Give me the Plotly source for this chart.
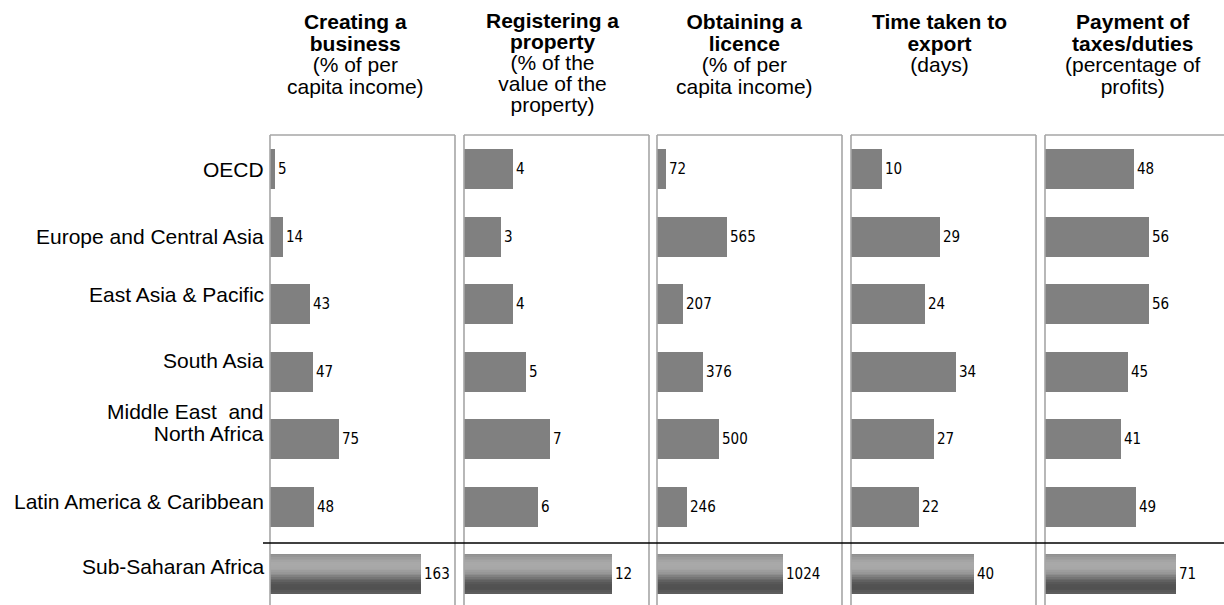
import plotly.graph_objects as go

W, H = 1224, 605

# ---------------- data ----------------
regions = ["OECD", "Europe and Central Asia", "East Asia & Pacific", "South Asia",
           "Middle East and North Africa", "Latin America & Caribbean", "Sub-Saharan Africa"]
region_labels = ["OECD", "Europe and Central Asia", "East Asia & Pacific", "South Asia",
                 "Middle East  and<br>North Africa", "Latin America & Caribbean", "Sub-Saharan Africa"]

creating_business = [5, 14, 43, 47, 75, 48, 163]
registering_property = [4, 3, 4, 5, 7, 6, 12]
obtaining_licence = [72, 565, 207, 376, 500, 246, 1024]
time_to_export = [10, 29, 24, 34, 27, 22, 40]
payment_taxes = [48, 56, 56, 45, 41, 49, 71]

panel_titles_bold = [
    ["Creating a", "business"],
    ["Registering a", "property"],
    ["Obtaining a", "licence"],
    ["Time taken to", "export"],
    ["Payment of", "taxes/duties"],
]
panel_titles_sub = [
    ["(% of per", "capita income)"],
    ["(% of the", "value of the", "property)"],
    ["(% of per", "capita income)"],
    ["(days)"],
    ["(percentage of", "profits)"],
]
panel_values = [creating_business, registering_property, obtaining_licence,
                time_to_export, payment_taxes]
panel_max = [200, 15, 1500, 60, 100]

# ---------------- style / layout ----------------
panel_left_px = [270, 464, 657, 851, 1045]
panel_w_px = 185
top_px = 135
row0_px, row_step = 169, 67.5
bar_px = 40
label_right_px = 266
label_shift = [0, 0, 10, 11, 17, 5, 8]   # upward pixel shift of row labels
title_shift_px = [-7, -4, -5, -4, -5]
title_line_step = [21.5, 21, 21.5, 21.5, 21.5]
title_top_px = [8, 7, 8, 8, 8]
text_size = 21
label_line_step = 22

bar_color = "#808080"
grad_keys = [(0.0, 140), (0.12, 158), (0.25, 170), (0.38, 166), (0.5, 148),
             (0.62, 112), (0.75, 84), (0.88, 80), (1.0, 96)]
n_stripes = 24
box_color = "#a6a6a6"
label_font = "Liberation Sans, Arial, Helvetica, sans-serif"
value_font = "DejaVu Sans Condensed, DejaVu Sans, Tahoma, sans-serif"


def grey_at(t):
    for (t0, g0), (t1, g1) in zip(grad_keys[:-1], grad_keys[1:]):
        if t0 <= t <= t1:
            g = g0 + (g1 - g0) * (t - t0) / (t1 - t0)
            g = int(round(g))
            return "rgb(%d,%d,%d)" % (g, g, g)
    g = grad_keys[-1][1]
    return "rgb(%d,%d,%d)" % (g, g, g)


def sized(t, size):
    return '<span style="font-size:%dpx">%s</span>' % (size, t)


fig = go.Figure()

plot_h = H - top_px
r_top = -(row0_px - top_px) / row_step
r_bot = r_top + plot_h / row_step
bw = bar_px / row_step
n = len(regions)

for p in range(5):
    ax = "" if p == 0 else str(p + 1)
    xa, ya = "x" + ax, "y" + ax
    vals = panel_values[p]
    colors = [bar_color] * (n - 1) + ["rgba(0,0,0,0)"]
    sw = bw / n_stripes
    for k in range(n_stripes):
        fig.add_trace(go.Bar(
            x=[vals[-1]], y=[regions[-1]], orientation="h",
            width=sw * 1.05, offset=-bw / 2 + k * sw,
            marker=dict(color=grey_at((k + 0.5) / n_stripes), line=dict(width=0)),
            xaxis=xa, yaxis=ya, showlegend=False, hoverinfo="skip"))
    fig.add_trace(go.Bar(
        x=vals, y=regions, orientation="h", width=bw,
        marker=dict(color=colors, line=dict(width=0)),
        text=[str(v) for v in vals], textposition="outside",
        constraintext="none", cliponaxis=False,
        textfont=dict(family=value_font, size=15, color="#000000"),
        xaxis=xa, yaxis=ya, showlegend=False, hoverinfo="skip"))

    x0 = panel_left_px[p] / W
    x1 = min(1.0, (panel_left_px[p] + panel_w_px) / W)
    span_px = (x1 - x0) * W
    xrange_max = panel_max[p] * span_px / panel_w_px
    fig.update_layout(**{
        ("xaxis" + ax): dict(domain=[x0, x1], range=[0, xrange_max], visible=False,
                             fixedrange=True),
        ("yaxis" + ax): dict(domain=[0, 1 - top_px / H], range=[r_bot, r_top],
                             type="category", categoryorder="array", categoryarray=regions,
                             visible=False, fixedrange=True, anchor=xa),
    })
    L = panel_left_px[p] / W
    R = (panel_left_px[p] + panel_w_px) / W
    T = 1 - top_px / H
    for (ax0, ay0, ax1, ay1) in [(L, -0.05, L, T), (R, -0.05, R, T), (L, T, R, T)]:
        fig.add_shape(type="line", xref="paper", yref="paper", x0=ax0, y0=ay0, x1=ax1, y1=ay1,
                      line=dict(color=box_color, width=1.6))

    # title: one annotation, line spacing controlled through the base font size
    cx = (panel_left_px[p] + panel_w_px / 2 + title_shift_px[p]) / W
    lines = [sized("<b>%s</b>" % t, text_size) for t in panel_titles_bold[p]] + \
            [sized(t, text_size) for t in panel_titles_sub[p]]
    fig.add_annotation(
        x=cx, y=1 - title_top_px[p] / H, xref="paper", yref="paper",
        text="<br>".join(lines), showarrow=False,
        xanchor="center", yanchor="top", align="center",
        font=dict(family=label_font, size=title_line_step[p] / 1.3, color="#000000"))

# separator line above Sub-Saharan Africa
sep_y = 1 - 543 / H
fig.add_shape(type="line", xref="paper", yref="paper", x0=263 / W, x1=1.0,
              y0=sep_y, y1=sep_y, line=dict(color="#000000", width=1.5))

# row labels
for i, lab in enumerate(region_labels):
    parts = lab.split("<br>")
    fig.add_annotation(
        x=label_right_px / W, xref="paper", y=regions[i], yref="y",
        text="<br>".join(sized(t, text_size) for t in parts), showarrow=False,
        xanchor="right", yanchor="middle", align="right",
        yshift=label_shift[i],
        font=dict(family=label_font, size=label_line_step / 1.3, color="#000000"))

fig.update_layout(
    width=W, height=H, margin=dict(l=0, r=0, t=0, b=0),
    paper_bgcolor="white", plot_bgcolor="rgba(0,0,0,0)",
    barmode="overlay", bargap=0,
)

fig.write_html("out.html")
